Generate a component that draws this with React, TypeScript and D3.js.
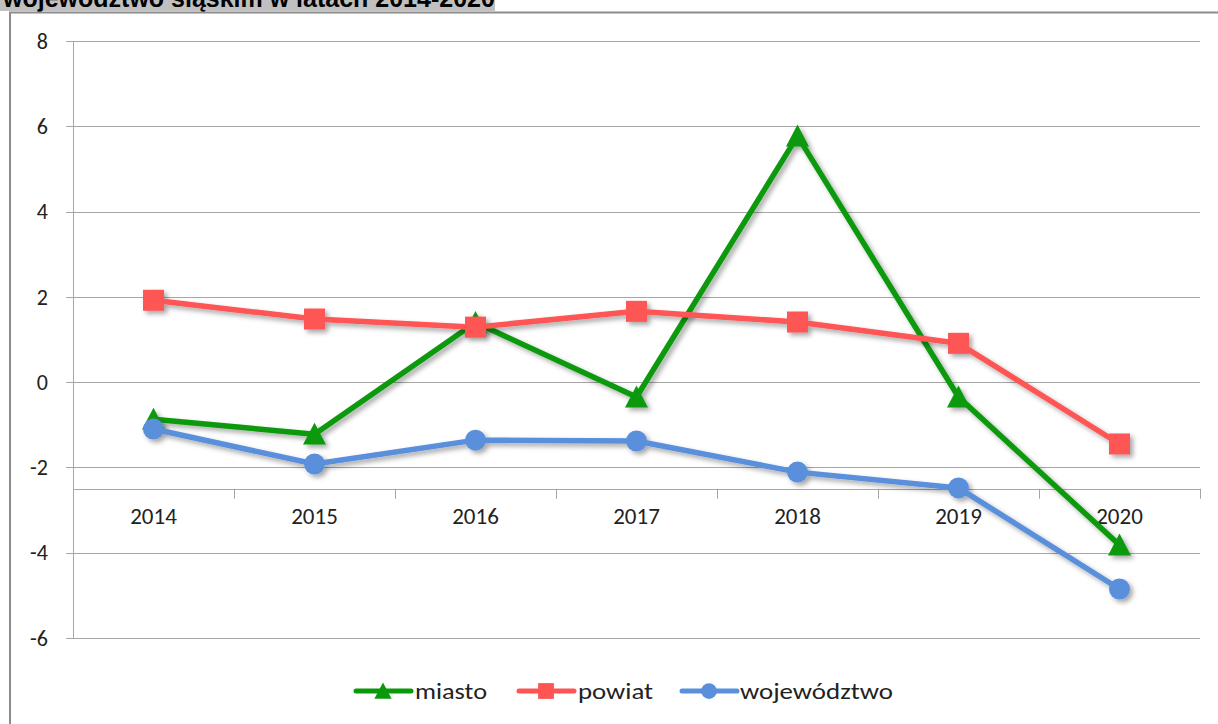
import React from 'react';
import * as d3 from 'd3';

const years = ['2014', '2015', '2016', '2017', '2018', '2019', '2020'];
const miasto = [-0.87, -1.22, 1.4, -0.35, 5.77, -0.35, -3.82];
const powiat = [1.92, 1.48, 1.29, 1.66, 1.41, 0.91, -1.45];
const wojewodztwo = [-1.1, -1.92, -1.36, -1.38, -2.11, -2.48, -4.85];
const yTicks = [8, 6, 4, 2, 0, -2, -4, -6];

const W = 1218;
const H = 724;
const left = 73;
const right = 1200;

const series = [
  { name: 'miasto', values: miasto, color: '#0a990a', marker: 'triangle' },
  { name: 'powiat', values: powiat, color: '#fe5454', marker: 'square' },
  { name: 'województwo', values: wojewodztwo, color: '#5a8fdb', marker: 'circle' },
];

const Marker = ({ type, x, y, color, k = 1 }: { type: string; x: number; y: number; color: string; k?: number }) => {
  if (type === 'triangle') {
    const s = 11.5 * k;
    return <path d={`M${x},${y - s} L${x + s},${y + s * 0.9} L${x - s},${y + s * 0.9} Z`} fill={color} />;
  }
  if (type === 'square') {
    const h = 10.5 * k;
    return <rect x={x - h} y={y - h} width={2 * h} height={2 * h} fill={color} />;
  }
  return <circle cx={x} cy={y} r={10.5 * k} fill={color} />;
};

const App = () => {
  const x = d3.scaleBand().domain(years).range([left, right]);
  const y = d3.scaleLinear().domain([-6, 8]).range([638, 41]);
  const axisY = y(-2.5);
  const cx = (i: number) => (x(years[i]) as number) + x.bandwidth() / 2;
  const line = d3
    .line<number>()
    .x((_, i) => cx(i))
    .y((d) => y(d));

  // legend layout: line start, text start, text width
  const legendItems = [
    { s: series[0], lx: 356, tx: 415, tw: 72 },
    { s: series[1], lx: 519, tx: 578, tw: 75 },
    { s: series[2], lx: 682, tx: 740, tw: 153 },
  ];
  const font = "Carlito, Calibri, Lato, sans-serif";

  return (
    <div style={{ position: 'fixed', left: 0, top: 0 }}>
      <svg width={W} height={H} viewBox={`0 0 ${W} ${H}`} style={{ display: 'block', background: '#fff' }}>
        <defs>
          <filter id="shadow" x="-10%" y="-10%" width="120%" height="130%">
            <feDropShadow dx="3" dy="3" stdDeviation="2.5" floodColor="#000" floodOpacity="0.35" />
          </filter>
        </defs>
        {/* title strip, cut off at the top */}
        <rect x={0} y={0} width={495} height={11} fill="#c0c0c0" />
        <text x={3} y={7} fontFamily="'Liberation Sans', Arial, sans-serif" fontWeight="bold" fontSize={25} fill="#000">
          województwo śląskim w latach 2014-2020
        </text>
        {/* frame */}
        <line x1={9} x2={W} y1={12.5} y2={12.5} stroke="#8c8c8c" strokeWidth={2} />
        <line x1={10} x2={10} y1={12} y2={H} stroke="#8c8c8c" strokeWidth={2} />

        {/* grid + y labels */}
        {yTicks.map((t) => (
          <g key={t}>
            <line x1={66} x2={right} y1={Math.round(y(t)) + 0.5} y2={Math.round(y(t)) + 0.5} stroke="#a6a6a6" strokeWidth={1} />
            <text x={48} y={y(t)} dy="0.35em" textAnchor="end" fontFamily={font} fontSize={22} fill="#222">
              {t}
            </text>
          </g>
        ))}
        <line x1={left + 0.5} x2={left + 0.5} y1={y(8)} y2={y(-6)} stroke="#a6a6a6" />

        {/* category axis crossing at -2.5 */}
        <line x1={left} x2={right} y1={Math.round(axisY) + 0.5} y2={Math.round(axisY) + 0.5} stroke="#a6a6a6" />
        {years.map((yr) => (
          <g key={yr}>
            <line
              x1={Math.round((x(yr) as number) + x.bandwidth()) + 0.5}
              x2={Math.round((x(yr) as number) + x.bandwidth()) + 0.5}
              y1={axisY}
              y2={axisY + 10}
              stroke="#a6a6a6"
            />
            <text x={(x(yr) as number) + x.bandwidth() / 2} y={axisY + 35} textAnchor="middle" fontFamily={font} fontSize={23} fill="#222">
              {yr}
            </text>
          </g>
        ))}

        {/* series */}
        {series.map((s) => (
          <g key={s.name} filter="url(#shadow)">
            <path d={line(s.values) as string} fill="none" stroke={s.color} strokeWidth={5.5} strokeLinejoin="round" />
            {s.values.map((v, i) => (
              <Marker key={i} type={s.marker} x={cx(i)} y={y(v)} color={s.color} />
            ))}
          </g>
        ))}

        {/* legend */}
        {legendItems.map(({ s, lx, tx, tw }) => (
          <g key={s.name}>
            <line x1={lx} x2={lx + 55} y1={691} y2={691} stroke={s.color} strokeWidth={5} strokeLinecap="round" />
            <Marker type={s.marker} x={lx + 27} y={691} color={s.color} k={0.75} />
            <text
              x={tx}
              y={691}
              dy="0.35em"
              fontFamily={font}
              fontSize={22}
              fill="#222"
              textLength={tw}
              lengthAdjust="spacingAndGlyphs"
            >
              {s.name}
            </text>
          </g>
        ))}
      </svg>
    </div>
  );
};

export default App;
